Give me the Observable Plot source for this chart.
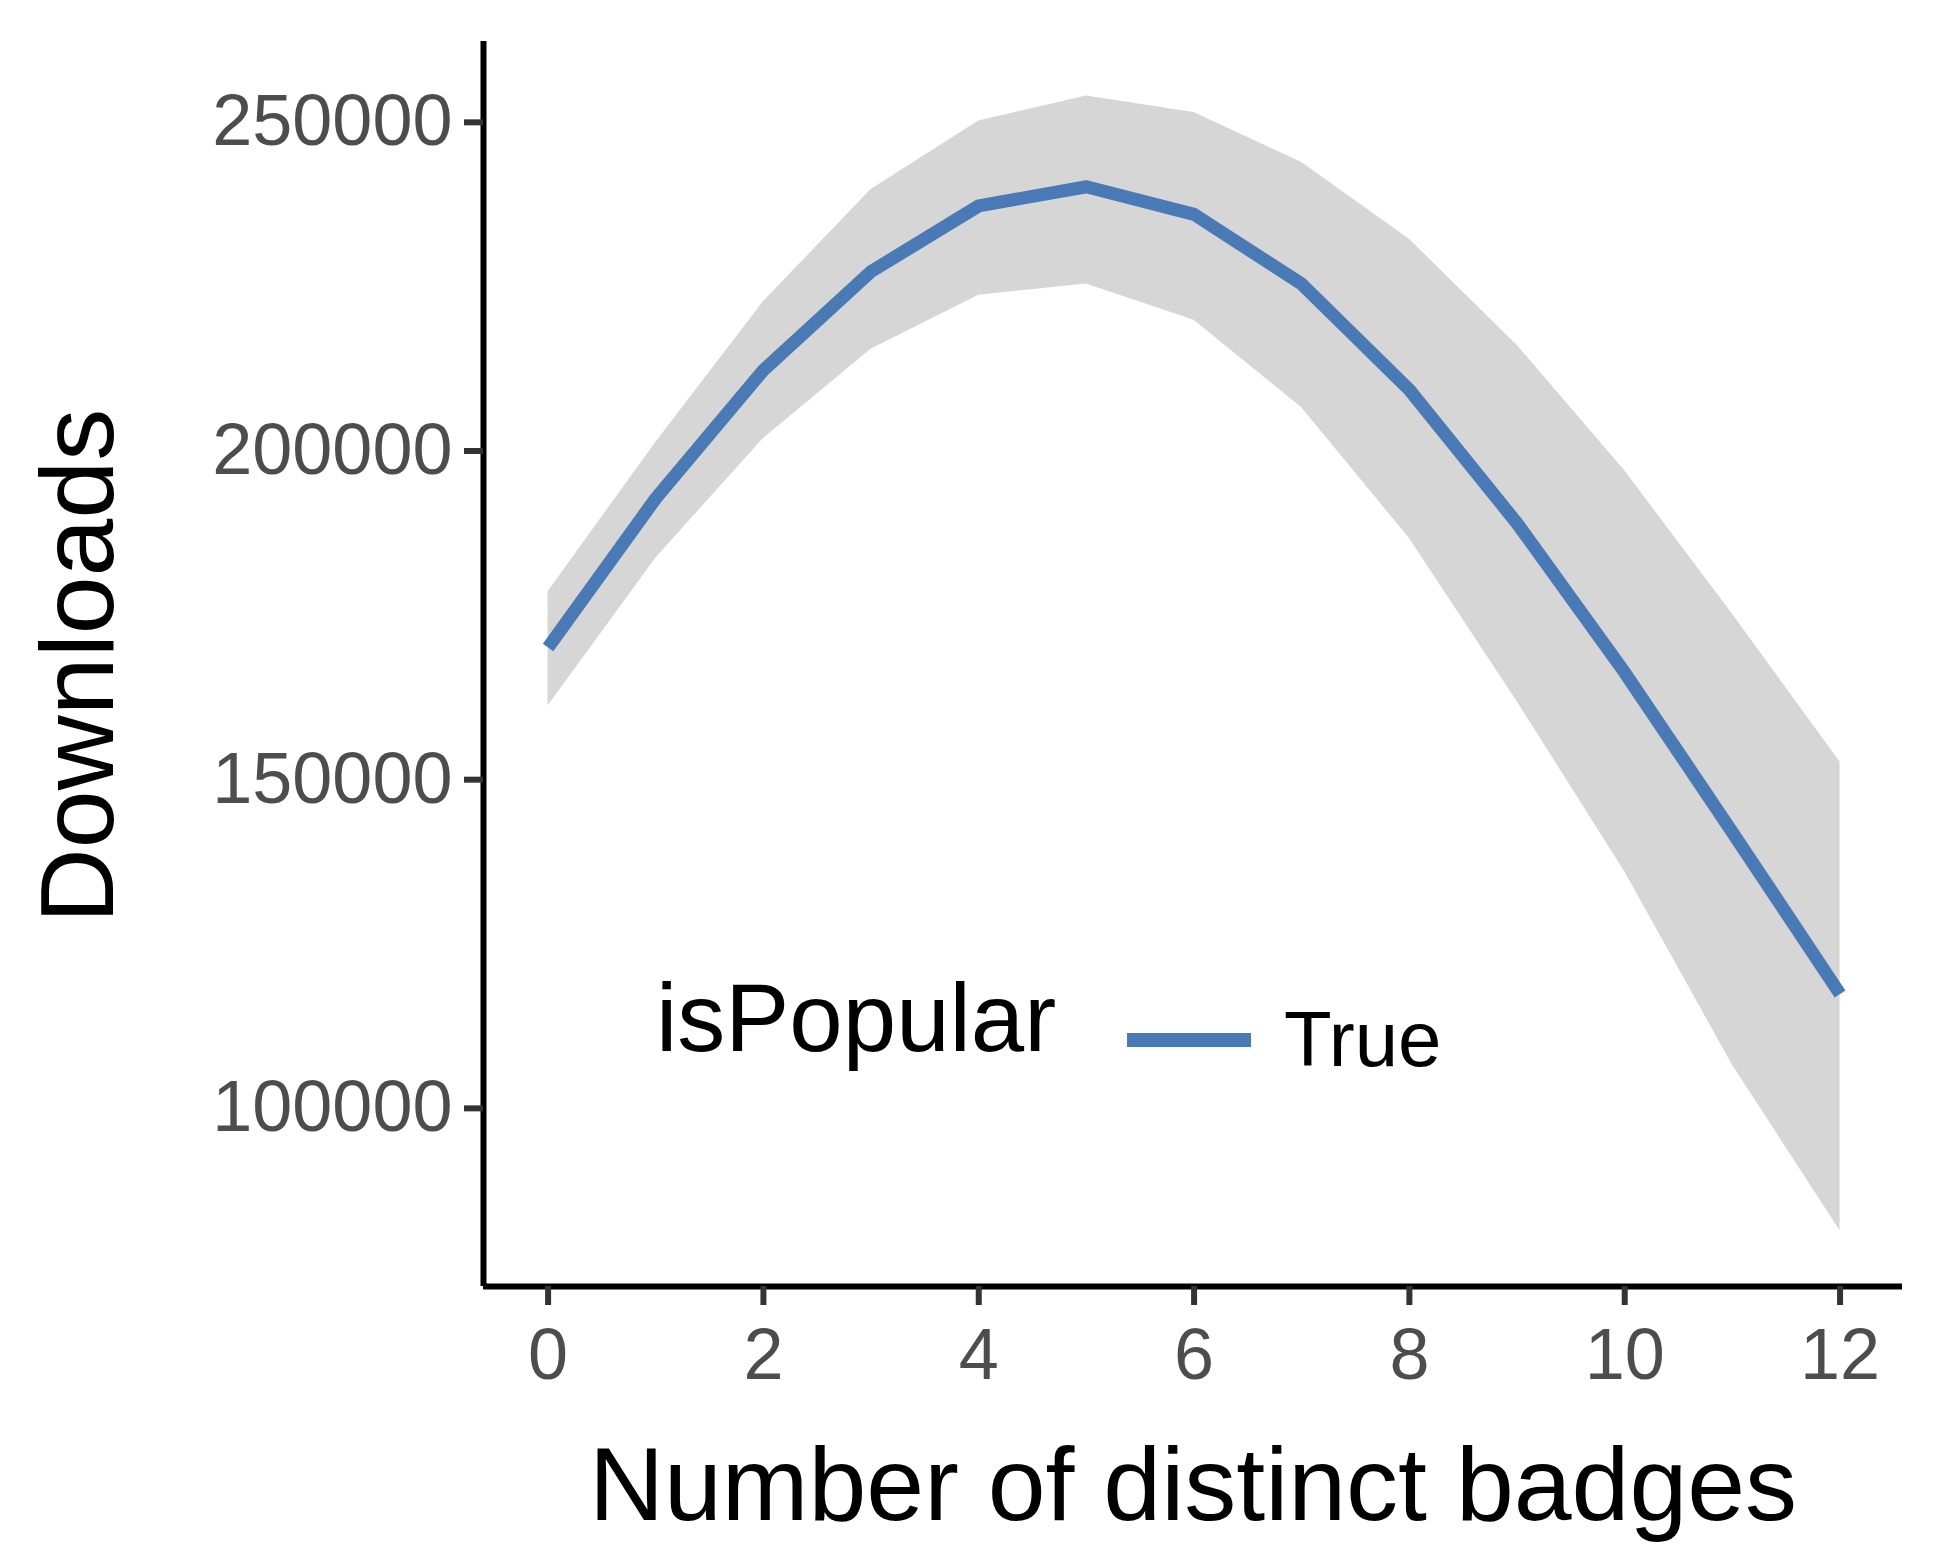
<!DOCTYPE html>
<html><head><meta charset="utf-8">
<script src="https://cdn.jsdelivr.net/npm/d3@7"></script>
<script src="https://cdn.jsdelivr.net/npm/@observablehq/plot@0.6"></script>
<style>
body{margin:0;background:#fff;font-family:"Liberation Sans",Arial,sans-serif}
#wrap{position:relative;width:1942px;height:1560px}
.t{position:absolute;color:#000;white-space:nowrap;line-height:1}
</style></head>
<body><div id="wrap"><div id="chart"></div>
<div class="t" style="left:656px;top:970px;font-size:96px">isPopular</div>
<div style="position:absolute;left:1127px;top:1033px;width:124px;height:14px;background:#4a7ab5"></div>
<div class="t" style="left:1284px;top:1000px;font-size:78px">True</div>
<div class="t" style="left:1193px;top:1432px;font-size:104px;transform:translateX(-50%)">Number of distinct badges</div>
<div class="t" style="left:77px;top:666px;font-size:104px;transform:translate(-50%,-50%) rotate(-90deg)">Downloads</div>
</div>
<script>
const badges = [0,1,2,3,4,5,6,7,8,9,10,11,12]
const fit   = [170100,192800,212300,227300,237300,240200,236000,225400,209300,189000,166300,142000,117400]
const upper = [178600,201300,222700,239800,250200,254000,251500,243900,232200,216100,197000,175200,152700]
const lower = [161200,183700,201900,215500,223700,225400,219900,206600,186700,161900,136000,106600,81400]
const yTicks = [100000,150000,200000,250000]
const xTicks = [0,2,4,6,8,10,12]

const data = badges.map((b,i) => ({b, fit: fit[i], hi: upper[i], lo: lower[i]}))

const chart = Plot.plot({
  width: 1942, height: 1560,
  marginLeft: 483, marginRight: 40, marginTop: 41, marginBottom: 274,
  style: {fontFamily: "Liberation Sans, Arial, sans-serif", background: "white"},
  x: {domain: [-0.6, 12.58]},
  y: {domain: [72900, 262300]},
  marks: [
    Plot.areaY(data, {x: "b", y1: "lo", y2: "hi", fill: "#d6d6d6"}),
    Plot.lineY(data, {x: "b", y: "fit", stroke: "#4a7ab5", strokeWidth: 13, strokeLinecap: "butt"}),
    Plot.ruleX([-0.6], {stroke: "#000", strokeWidth: 6}),
    Plot.ruleY([72900], {stroke: "#000", strokeWidth: 6}),
    Plot.axisX({ticks: xTicks, tickFormat: "d", tickSize: 19, tickPadding: 22, stroke: "#333", strokeWidth: 6, fill: "#4d4d4d", fontSize: 72, label: null}),
    Plot.axisY({ticks: yTicks, tickFormat: "d", tickSize: 19, tickPadding: 12, stroke: "#333", strokeWidth: 6, fill: "#4d4d4d", fontSize: 72, label: null})
  ]
})
d3.select('#chart').append(() => chart)
</script></body></html>
